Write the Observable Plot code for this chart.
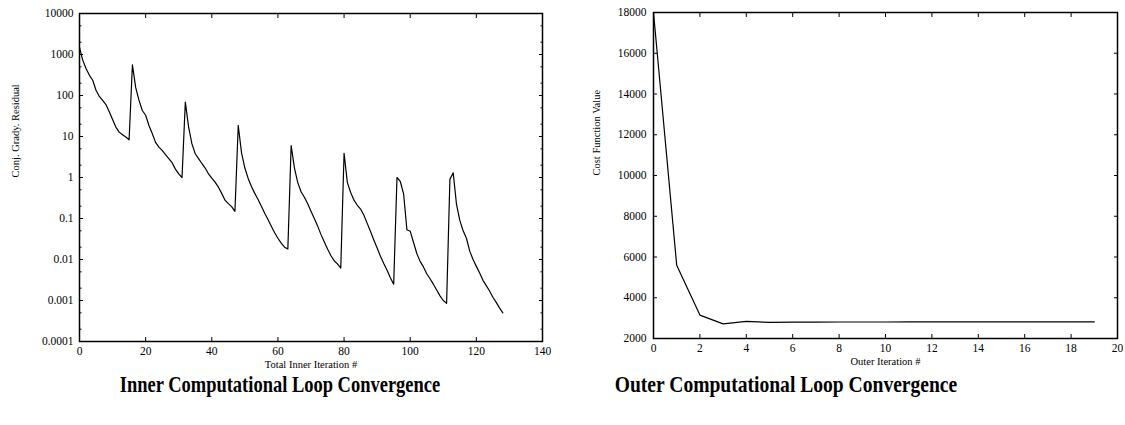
<!DOCTYPE html>
<html><head><meta charset="utf-8">
<script src="https://cdn.jsdelivr.net/npm/d3@7"></script>
<script src="https://cdn.jsdelivr.net/npm/@observablehq/plot@0.6"></script>
<style>
body{margin:0;background:#fff;}
#wrap{position:relative;width:1125px;height:425px;overflow:hidden;font-family:"Liberation Serif","Times New Roman",serif;}
.panel{position:absolute;top:0;}
.title{position:absolute;font-weight:bold;font-size:24px;line-height:0.9;white-space:nowrap;top:374px;color:#000;font-family:"Liberation Serif","Times New Roman",serif;}
#t1{left:280px;transform:translateX(-50%) scaleX(0.77);}
#t2{left:786px;transform:translateX(-50%) scaleX(0.815);}
</style></head><body>
<div id="wrap">
<div id="left" class="panel" style="left:0"></div>
<div id="right" class="panel" style="left:575px"></div>
<div id="t1" class="title">Inner Computational Loop Convergence</div>
<div id="t2" class="title">Outer Computational Loop Convergence</div>
</div>
<script>
// ---- Inner loop data (index = total inner iteration #) ----
const innerResidual = [
  1500, 720, 450, 310, 235, 134, 95, 76, 60, 40, 26, 17, 12.8, 11, 9.7, 8.3,
  560, 155, 76, 43, 33, 18.6, 11.8, 7.2, 5.5, 4.6, 3.6, 2.9, 2.3, 1.6, 1.23, 1.0,
  69, 17, 6.6, 3.8, 2.9, 2.2, 1.7, 1.23, 0.96, 0.77, 0.58, 0.41, 0.28, 0.23, 0.195, 0.15,
  18.6, 4.0, 1.7, 0.95, 0.6, 0.41, 0.29, 0.2, 0.135, 0.095, 0.065, 0.045, 0.033, 0.025, 0.02, 0.018,
  6.0, 1.7, 0.75, 0.45, 0.33, 0.23, 0.15, 0.10, 0.066, 0.041, 0.027, 0.018, 0.0125, 0.0093, 0.0078, 0.0062,
  3.9, 0.75, 0.43, 0.28, 0.21, 0.17, 0.12, 0.076, 0.048, 0.03, 0.019, 0.012, 0.008, 0.0055, 0.0036, 0.0025,
  1.0, 0.8, 0.40, 0.053, 0.049, 0.026, 0.014, 0.009, 0.0066, 0.0045, 0.0034, 0.0025, 0.0018, 0.0013, 0.001, 0.00085,
  0.9, 1.3, 0.22, 0.09, 0.05, 0.033, 0.016, 0.01, 0.0068, 0.0047, 0.0031, 0.0023, 0.0017, 0.0012, 0.0009, 0.00066,
  0.0005
];
const innerXTicks = [0, 20, 40, 60, 80, 100, 120, 140];
const innerYTicks = [0.0001, 0.001, 0.01, 0.1, 1, 10, 100, 1000, 10000];
const innerYTickLabels = ["0.0001", "0.001", "0.01", "0.1", "1", "10", "100", "1000", "10000"];
const innerYMinor = [0.0002, 0.0005, 0.002, 0.005, 0.02, 0.05, 0.2, 0.5, 2, 5, 20, 50, 200, 500, 2000, 5000];
const innerXLabel = "Total Inner Iteration #";
const innerYLabel = "Conj. Grady. Residual";

// ---- Outer loop data (index = outer iteration #) ----
const outerCost = [18000, 5600, 3150, 2720, 2840, 2790, 2800, 2805, 2810, 2810,
                   2810, 2815, 2815, 2815, 2815, 2820, 2820, 2820, 2820, 2820];
const outerXTicks = [0, 2, 4, 6, 8, 10, 12, 14, 16, 18, 20];
const outerYTicks = [2000, 4000, 6000, 8000, 10000, 12000, 14000, 16000, 18000];
const outerXLabel = "Outer Iteration #";
const outerYLabel = "Cost Function Value";

const FONT = "'Liberation Serif', 'Times New Roman', serif";
const style = `font-family: ${FONT}; font-size: 11.5px; background: transparent; color: black; overflow: visible;`;
const blank = () => "";
const T = 4;    // major tick length (inward)
const t = 2.5;  // minor tick length (inward)

const innerData = innerResidual.map((r, i) => ({iter: i, r}));
const innerLabelMap = new Map(innerYTicks.map((v, i) => [v, innerYTickLabels[i]]));

const leftPlot = Plot.plot({
  width: 560, height: 375,
  marginLeft: 79, marginRight: 18, marginTop: 13, marginBottom: 34,
  style,
  x: {domain: [0, 140], label: null},
  y: {type: "log", domain: [1e-4, 1e4], label: null},
  marks: [
    Plot.line(innerData, {x: "iter", y: "r", stroke: "black", strokeWidth: 1.2}),
    Plot.axisX(innerXTicks, {anchor: "bottom", tickSize: T, dy: -T, tickPadding: 5, label: null, tickFormat: d => String(d), fontFamily: FONT}),
    Plot.axisX(innerXTicks, {anchor: "top", tickSize: T, dy: T, label: null, tickFormat: blank}),
    Plot.axisY(innerYTicks, {anchor: "left", tickSize: T, dx: T, tickPadding: 6, label: null, tickFormat: d => innerLabelMap.get(d), fontFamily: FONT}),
    Plot.axisY(innerYTicks, {anchor: "right", tickSize: T, dx: -T, label: null, tickFormat: blank}),
    Plot.axisY(innerYMinor, {anchor: "left", tickSize: t, dx: t, label: null, tickFormat: blank}),
    Plot.axisY(innerYMinor, {anchor: "right", tickSize: t, dx: -t, label: null, tickFormat: blank}),
    Plot.frame({stroke: "black", strokeWidth: 1.5}),
    Plot.text([innerXLabel], {frameAnchor: "bottom", dy: 26, fontSize: 10.5, fontFamily: FONT, text: d => d}),
    Plot.text([innerYLabel], {frameAnchor: "left", dx: -64, rotate: -90, fontSize: 10.5, fontFamily: FONT, text: d => d})
  ]
});
document.getElementById("left").append(leftPlot);

const outerData = outerCost.map((c, i) => ({iter: i, c}));
const rightPlot = Plot.plot({
  width: 550, height: 375,
  marginLeft: 78, marginRight: 8, marginTop: 12, marginBottom: 37,
  style,
  x: {domain: [0, 20], label: null},
  y: {domain: [2000, 18000], label: null},
  marks: [
    Plot.line(outerData, {x: "iter", y: "c", stroke: "black", strokeWidth: 1.2}),
    Plot.axisX(outerXTicks, {anchor: "bottom", tickSize: T, dy: -T, tickPadding: 5, label: null, tickFormat: d => String(d), fontFamily: FONT}),
    Plot.axisX(outerXTicks, {anchor: "top", tickSize: T, dy: T, label: null, tickFormat: blank}),
    Plot.axisY(outerYTicks, {anchor: "left", tickSize: T, dx: T, tickPadding: 7, label: null, tickFormat: d => String(d), fontFamily: FONT}),
    Plot.axisY(outerYTicks, {anchor: "right", tickSize: T, dx: -T, label: null, tickFormat: blank}),
    Plot.frame({stroke: "black", strokeWidth: 1.5}),
    Plot.text([outerXLabel], {frameAnchor: "bottom", dy: 26, fontSize: 10.5, fontFamily: FONT, text: d => d}),
    Plot.text([outerYLabel], {frameAnchor: "left", dx: -57, rotate: -90, fontSize: 10.5, fontFamily: FONT, text: d => d})
  ]
});
document.getElementById("right").append(rightPlot);
</script>
</body></html>
